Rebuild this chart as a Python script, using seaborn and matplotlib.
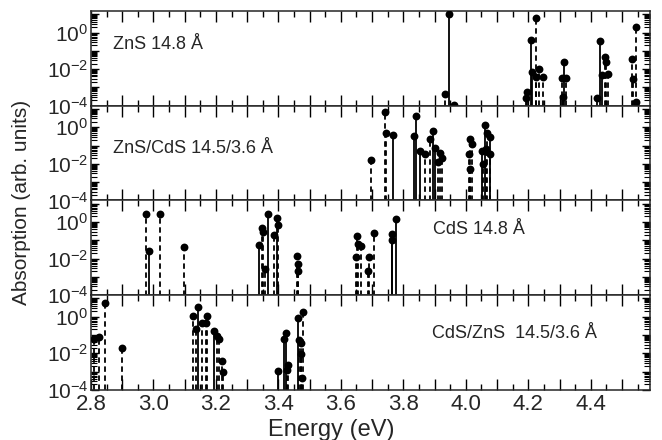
import numpy as np
import matplotlib
matplotlib.use("Agg")
import matplotlib.pyplot as plt
import matplotlib.ticker as mticker
import seaborn as sns
import pandas as pd

# Panel captions
captions = ["ZnS 14.8 Å", "ZnS/CdS 14.5/3.6 Å", "CdS 14.8 Å", "CdS/ZnS  14.5/3.6 Å"]

# ZnS 14.8 A  (pol. 1 = solid lines, pol. 2 = dashed lines)
zns_e1 = [3.947, 4.192, 4.208, 4.213, 4.314, 4.420, 4.430, 4.437]
zns_a1 = [10.0, 2.5e-4, 0.38, 6.8e-3, 0.023, 2.5e-4, 0.35, 4.5e-3]
zns_e2 = [3.934, 3.961, 4.197, 4.224, 4.226, 4.235, 4.246, 4.308, 4.310, 4.321,
          4.447, 4.449, 4.455, 4.533, 4.535, 4.544, 4.546]
zns_a2 = [4.5e-4, 1.1e-4, 5.6e-4, 3.6e-3, 6.3, 0.01, 3.6e-3, 3.3e-3, 3e-4, 3.3e-3,
          0.044, 0.023, 5.5e-3, 0.035, 3e-3, 2.0, 1.6e-4]

# ZnS/CdS 14.5/3.6 A
zc_e1 = [3.766, 3.835, 3.841, 3.854, 3.895, 3.902, 4.052, 4.061, 4.079]
zc_a1 = [0.37, 0.32, 3.9, 0.05, 0.6, 0.076, 0.05, 1.4, 0.29]
zc_e2 = [3.698, 3.741, 3.743, 3.870, 3.886, 3.911, 3.918, 3.924, 4.010, 4.013,
         4.015, 4.020, 4.054, 4.065, 4.068, 4.076]
zc_a2 = [0.016, 6.7, 0.49, 0.033, 0.22, 0.012, 0.041, 0.022, 0.033, 5.1e-3,
         0.22, 0.12, 0.01, 0.063, 0.49, 0.033]

# CdS 14.8 A
cds_e1 = [2.985, 3.339, 3.368, 3.396, 3.764, 3.765, 3.777]
cds_a1 = [0.027, 0.058, 2.8, 1.7, 0.1, 0.22, 1.4]
cds_e2 = [2.977, 3.022, 3.097, 3.346, 3.351, 3.357, 3.387, 3.400, 3.460, 3.462,
          3.464, 3.647, 3.653, 3.655, 3.666, 3.688, 3.690, 3.706]
cds_a2 = [2.8, 2.8, 0.045, 0.49, 0.3, 2.8e-3, 0.2, 0.7, 0.013, 4.8e-3,
          2e-3, 0.012, 0.17, 0.063, 0.05, 2.2e-3, 0.012, 0.25]

# CdS/ZnS 14.5/3.6 A
cz_e1 = [3.143, 3.194, 3.400, 3.417, 3.425, 3.464]
cz_a1 = [3.2, 0.16, 1.1e-3, 0.063, 0.12, 0.85]
cz_e2 = [2.808, 2.827, 2.845, 2.899, 3.127, 3.135, 3.156, 3.167, 3.170, 3.202,
         3.210, 3.219, 3.221, 3.427, 3.432, 3.466, 3.471, 3.473, 3.475, 3.480]
cz_a2 = [0.06, 0.076, 5.9, 0.019, 1.1, 0.22, 0.44, 0.44, 1.1, 0.083,
         0.063, 3.8e-3, 1e-3, 1.2e-3, 2.2e-3, 0.05, 0.036, 9.5e-3, 4.2e-4, 1.7]

panels = [(zns_e1, zns_a1, zns_e2, zns_a2),
          (zc_e1, zc_a1, zc_e2, zc_a2),
          (cds_e1, cds_a1, cds_e2, cds_a2),
          (cz_e1, cz_a1, cz_e2, cz_a2)]

caption_pos = [(0.04, 0.65), (0.04, 0.55), (0.612, 0.69), (0.61, 0.6)]

sns.set_style("ticks")
plt.rcParams["font.family"] = ["Liberation Sans", "DejaVu Sans"]
plt.rcParams["mathtext.default"] = "regular"
plt.rcParams["axes.linewidth"] = 1.1

y_low, y_high = 1e-4, 15

fig, axes = plt.subplots(4, 1, sharex=True, figsize=(6.62, 4.40), dpi=100)
fig.subplots_adjust(left=0.1375, right=0.982, top=0.975, bottom=0.114, hspace=0)


def xfmt(v, pos):
    k = int(round(v * 10))
    return f"{v:.1f}" if k % 2 == 0 else ""


def yfmt(v, pos):
    p = int(round(np.log10(v)))
    return f"$10^{{{p}}}$" if p % 2 == 0 else ""


for ax, (e1, a1, e2, a2), cap, cp in zip(axes, panels, captions, caption_pos):
    df = pd.concat([
        pd.DataFrame({"energy": e1, "absorption": a1, "pol": "1"}),
        pd.DataFrame({"energy": e2, "absorption": a2, "pol": "2"}),
    ])
    ax.set_yscale("log")
    for pol, ls in [("2", (0, (3.0, 2.0))), ("1", "-")]:
        sub = df[df["pol"] == pol]
        ax.vlines(sub["energy"], 1e-6, sub["absorption"], colors="black",
                  linestyles=ls, linewidth=1.3)
    sns.scatterplot(data=df, x="energy", y="absorption", ax=ax, color="black",
                    s=32, edgecolor="black", linewidth=0, legend=False, zorder=3)
    ax.set_ylim(y_low, y_high)
    ax.set_xlim(2.8, 4.59)
    ax.set_xlabel("")
    ax.set_ylabel("")
    ax.yaxis.set_major_locator(mticker.FixedLocator([1e-4, 1e-3, 1e-2, 1e-1, 1e0, 1e1]))
    ax.yaxis.set_major_formatter(mticker.FuncFormatter(yfmt))
    ax.yaxis.set_minor_locator(mticker.FixedLocator(
        [m * 10.0 ** d for d in range(-4, 2) for m in range(2, 10)]))
    ax.yaxis.set_minor_formatter(mticker.NullFormatter())
    ax.xaxis.set_major_locator(mticker.MultipleLocator(0.1))
    ax.xaxis.set_major_formatter(mticker.FuncFormatter(xfmt))
    ax.xaxis.set_minor_locator(mticker.MultipleLocator(0.05))
    ax.tick_params(which="both", direction="in", top=True, right=True, color="black")
    ax.tick_params(axis="y", labelsize=15, pad=2)
    ax.tick_params(axis="x", which="major", length=8, width=1.0)
    ax.tick_params(axis="x", which="minor", length=4, width=1.0)
    ax.tick_params(axis="y", which="major", length=6, width=1.0)
    ax.tick_params(axis="y", which="minor", length=4, width=0.8)
    ax.text(cp[0], cp[1], cap, transform=ax.transAxes, fontsize=13, va="center")

axes[-1].tick_params(axis="x", labelsize=16, pad=3)

fig.text(0.5, 0.022, "Energy (eV)", ha="center", va="center", fontsize=17)
fig.text(0.033, 0.54, "Absorption (arb. units)", ha="center", va="center",
         rotation=90, fontsize=15)

fig.savefig("out.png", dpi=100)
